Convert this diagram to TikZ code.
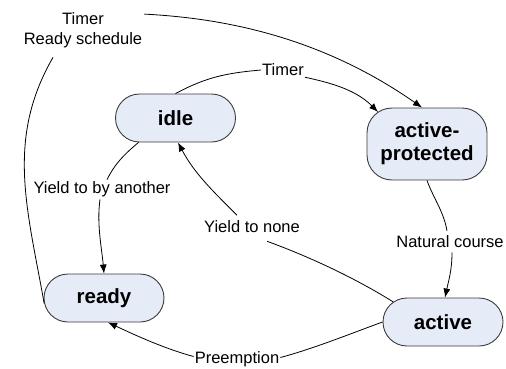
\documentclass[tikz,border=0pt]{standalone}
\usepackage{fontspec}
\setmainfont{Liberation Sans}
\usetikzlibrary{arrows.meta,shapes.misc}
\definecolor{statefill}{RGB}{230,236,247}
\definecolor{stateline}{RGB}{60,60,60}

\begin{document}
\begin{tikzpicture}[x=1pt,y=1pt,
  state/.style={rounded rectangle, draw=stateline, fill=statefill, line width=0.9pt,
    minimum width=120pt, minimum height=48pt, inner sep=0pt,
    font=\fontsize{20.5}{23}\selectfont\bfseries, align=center},
  tallstate/.style={rectangle, rounded corners=25pt, minimum height=72pt},
  lbl/.style={font=\fontsize{16.5}{20}\selectfont, inner sep=2pt, align=center},
  edge/.style={line width=0.8pt, draw=black},
  arr/.style={edge, -{Latex[length=9pt,width=7pt]}},
]
\useasboundingbox (0,0) rectangle (506,368);

% states
\node[state] (idle) at (175.5,250) {idle};
\node[state,tallstate] (ap) at (427,224) {active-\\protected};
\node[state] (ready) at (104,70) {ready};
\node[state] (active) at (443,46) {active};

% transition labels
\node[lbl] (tlab) at (83,338) {Timer\\Ready schedule};
\node[lbl, inner sep=1pt] (tim) at (283,298) {Timer};
\node[lbl] (ylab) at (102,178.5) {Yield to by another};
\node[lbl, inner sep=5pt] (ynone) at (252,141.5) {Yield to none};
\node[lbl, inner sep=4.5pt] (natc) at (450,126.5) {Natural course};
\node[lbl, inner sep=1pt] (pre) at (237,8.5) {Preemption};

% ready -> active-protected (timer / ready schedule)
\draw[edge] (ready.185) .. controls +(100:95) and +(-120:95) .. ([shift={(-30pt,-7.5pt)}]tlab.south);
\draw[arr] ([yshift=-4pt]tlab.north east) .. controls +(-3:70) and +(145:130) .. ([xshift=-5pt]ap.north);

% idle -> active-protected (timer)
\draw[edge] (idle.north) .. controls +(28:35) and +(185:35) .. (tim.west);
\draw[arr] (tim.south east) .. controls +(-12:30) and +(135:30) .. ([shift={(-49pt,32pt)}]ap.center);

% idle -> ready (yield to by another)
\draw[edge] ([xshift=-37pt]idle.south) .. controls +(-140:20) and +(63:18) .. ([xshift=5pt]ylab.north);
\draw[arr] ([xshift=-2pt]ylab.south) .. controls +(-98:25) and +(95:25) .. (ready.north);

% active -> idle (yield to none)
\draw[edge] (active.158) .. controls +(148:45) and +(-20:45) .. ([shift={(15pt,-3.5pt)}]ynone.south);
\draw[arr] ([xshift=-15pt]ynone.north) .. controls +(135:35) and +(-62:35) .. ([xshift=2.5pt]idle.south);

% active-protected -> active (natural course)
\draw[edge] (ap.south) .. controls +(-70:20) and +(100:20) .. ([xshift=-3pt]natc.north);
\draw[arr] ([xshift=2pt]natc.south) .. controls +(-90:18) and +(78:18) .. ([xshift=2pt]active.north);

% active -> ready (preemption)
\draw[edge] (active.west) .. controls +(200:35) and +(15:35) .. ([yshift=2pt]pre.east);
\draw[arr] ([yshift=3pt]pre.west) .. controls +(165:30) and +(-25:30) .. ([xshift=4pt]ready.south);
\end{tikzpicture}
\end{document}
